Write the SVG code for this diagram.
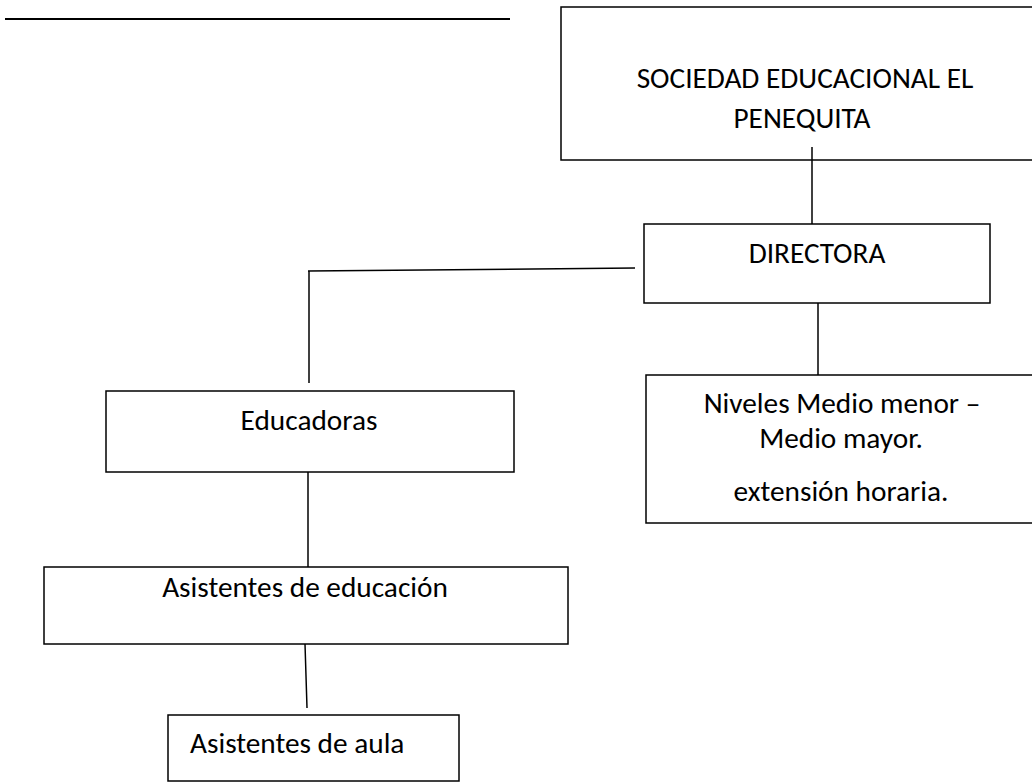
<svg xmlns="http://www.w3.org/2000/svg" width="1032" height="783" viewBox="0 0 1032 783">
<style>
.box{fill:#fff;stroke:#000;stroke-width:1.5}
.ln{fill:none;stroke:#000;stroke-width:1.5}
text{font-family:Carlito,Lato,"Liberation Sans",sans-serif;font-size:29.3px;fill:#000}
.c{text-anchor:middle}
</style>
<rect width="1032" height="783" fill="#fff"/>
<line x1="5" y1="19" x2="510" y2="19" stroke="#000" stroke-width="2.2"/>
<g id="sociedad">
<rect class="box" x="561" y="7" width="490" height="153"/>
<text class="c" x="805" y="88">SOCIEDAD EDUCACIONAL EL</text>
<text class="c" x="802" y="128">PENEQUITA</text>
</g>
<g id="directora">
<rect class="box" x="644" y="224" width="346" height="79"/>
<text class="c" x="817" y="263">DIRECTORA</text>
</g>
<g id="niveles">
<rect class="box" x="646" y="375" width="394" height="148"/>
<text class="c" x="842" y="413">Niveles Medio menor –</text>
<text class="c" x="841" y="448">Medio mayor.</text>
<text class="c" x="841" y="501">extensión horaria.</text>
</g>
<g id="educadoras">
<rect class="box" x="106" y="391" width="408" height="81"/>
<text class="c" x="309" y="430">Educadoras</text>
</g>
<g id="asistentes-educacion">
<rect class="box" x="44" y="567" width="524" height="77"/>
<text class="c" x="305" y="597">Asistentes de educación</text>
</g>
<g id="asistentes-aula">
<rect class="box" x="168" y="715" width="291" height="66"/>
<text x="190" y="753">Asistentes de aula</text>
</g>
<g id="connectors">
<line class="ln" x1="812" y1="147" x2="812" y2="224"/>
<line class="ln" x1="308" y1="271" x2="635" y2="268"/>
<line class="ln" x1="309" y1="271" x2="309" y2="383"/>
<line class="ln" x1="818" y1="303" x2="818" y2="375"/>
<line class="ln" x1="308" y1="472" x2="308" y2="567"/>
<line class="ln" x1="305" y1="644" x2="307" y2="708"/>
</g>
</svg>
